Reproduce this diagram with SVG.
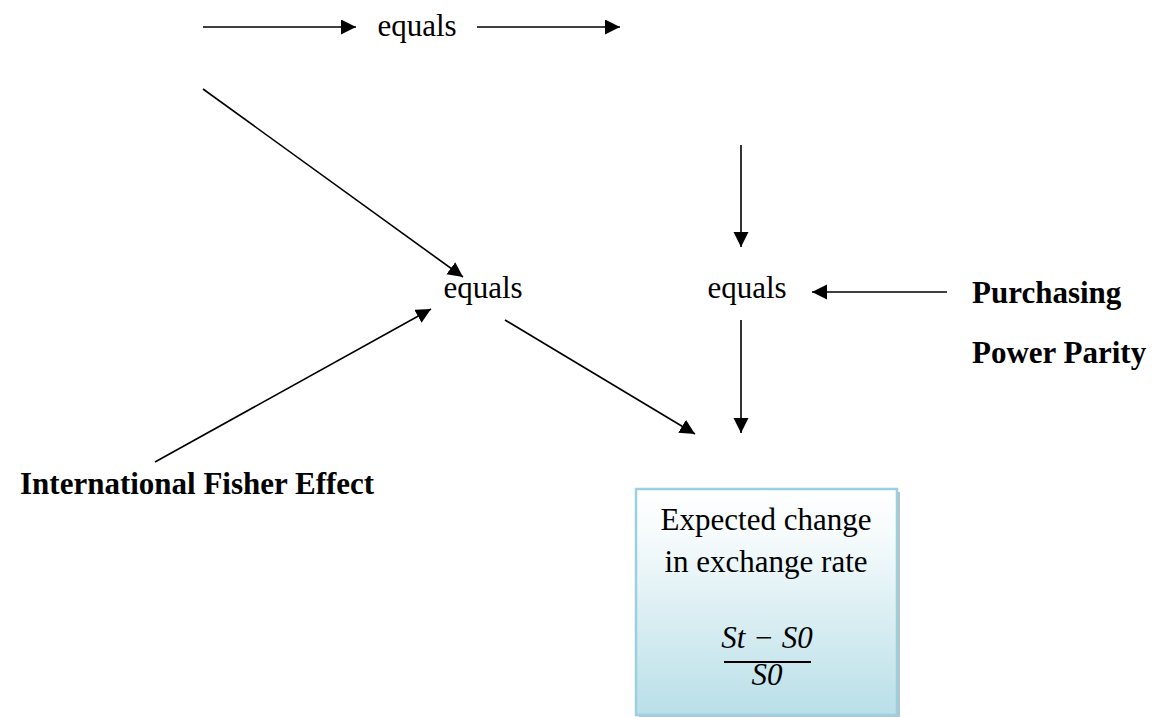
<svg xmlns="http://www.w3.org/2000/svg" width="1161" height="717" viewBox="0 0 1161 717">
<style>
.t{font-family:"Liberation Serif","Times New Roman",serif;font-size:31px;fill:#000}
.b{font-weight:bold}
.m{font-family:"Liberation Serif","Times New Roman",serif;font-size:31px;font-style:italic;fill:#000}
.c{stroke:#000;stroke-width:1.6;fill:none;marker-end:url(#ah)}
</style>
<defs>
<marker id="ah" markerUnits="userSpaceOnUse" markerWidth="16" markerHeight="16" refX="15" refY="7.5" orient="auto">
<path d="M0,0 L15,7.5 L0,15 z" fill="#000"/>
</marker>
<linearGradient id="g" x1="0" y1="0" x2="0" y2="1">
<stop offset="0" stop-color="#ffffff"/>
<stop offset="0.2" stop-color="#f6fbfc"/>
<stop offset="1" stop-color="#b9dfe8"/>
</linearGradient>
</defs>
<rect width="1161" height="717" fill="#fff"/>
<g id="connectors">
<line class="c" x1="203" y1="27" x2="356" y2="27"/>
<line class="c" x1="477" y1="27" x2="620" y2="27"/>
<line class="c" x1="203" y1="89" x2="463" y2="277"/>
<line class="c" x1="155" y1="462" x2="431" y2="309"/>
<line class="c" x1="741" y1="145" x2="741" y2="247"/>
<line class="c" x1="947" y1="292" x2="812" y2="292"/>
<line class="c" x1="505" y1="320" x2="695" y2="434"/>
<line class="c" x1="741" y1="320" x2="741" y2="433"/>
</g>
<g id="equals-top"><text class="t" x="417" y="36" text-anchor="middle">equals</text></g>
<g id="equals-left"><text class="t" x="483" y="298" text-anchor="middle">equals</text></g>
<g id="equals-right"><text class="t" x="747" y="298" text-anchor="middle">equals</text></g>
<g id="ppp"><text class="t b" x="972" y="303">Purchasing</text><text class="t b" x="972" y="363">Power Parity</text></g>
<g id="ife"><text class="t b" x="20" y="494">International Fisher Effect</text></g>
<g id="result">
<rect x="639" y="492" width="261" height="226" fill="#9aa9b0" opacity="0.7"/>
<rect x="636" y="489" width="261" height="226" fill="url(#g)" stroke="#9ccfdf" stroke-width="2.5"/>
<text class="t" x="766" y="530" text-anchor="middle">Expected change</text>
<text class="t" x="766" y="572" text-anchor="middle">in exchange rate</text>
<text class="m" x="767" y="648" text-anchor="middle">St − S0</text>
<line x1="724" y1="662" x2="811" y2="662" stroke="#000" stroke-width="2"/>
<text class="m" x="767" y="685" text-anchor="middle">S0</text>
</g>
</svg>
